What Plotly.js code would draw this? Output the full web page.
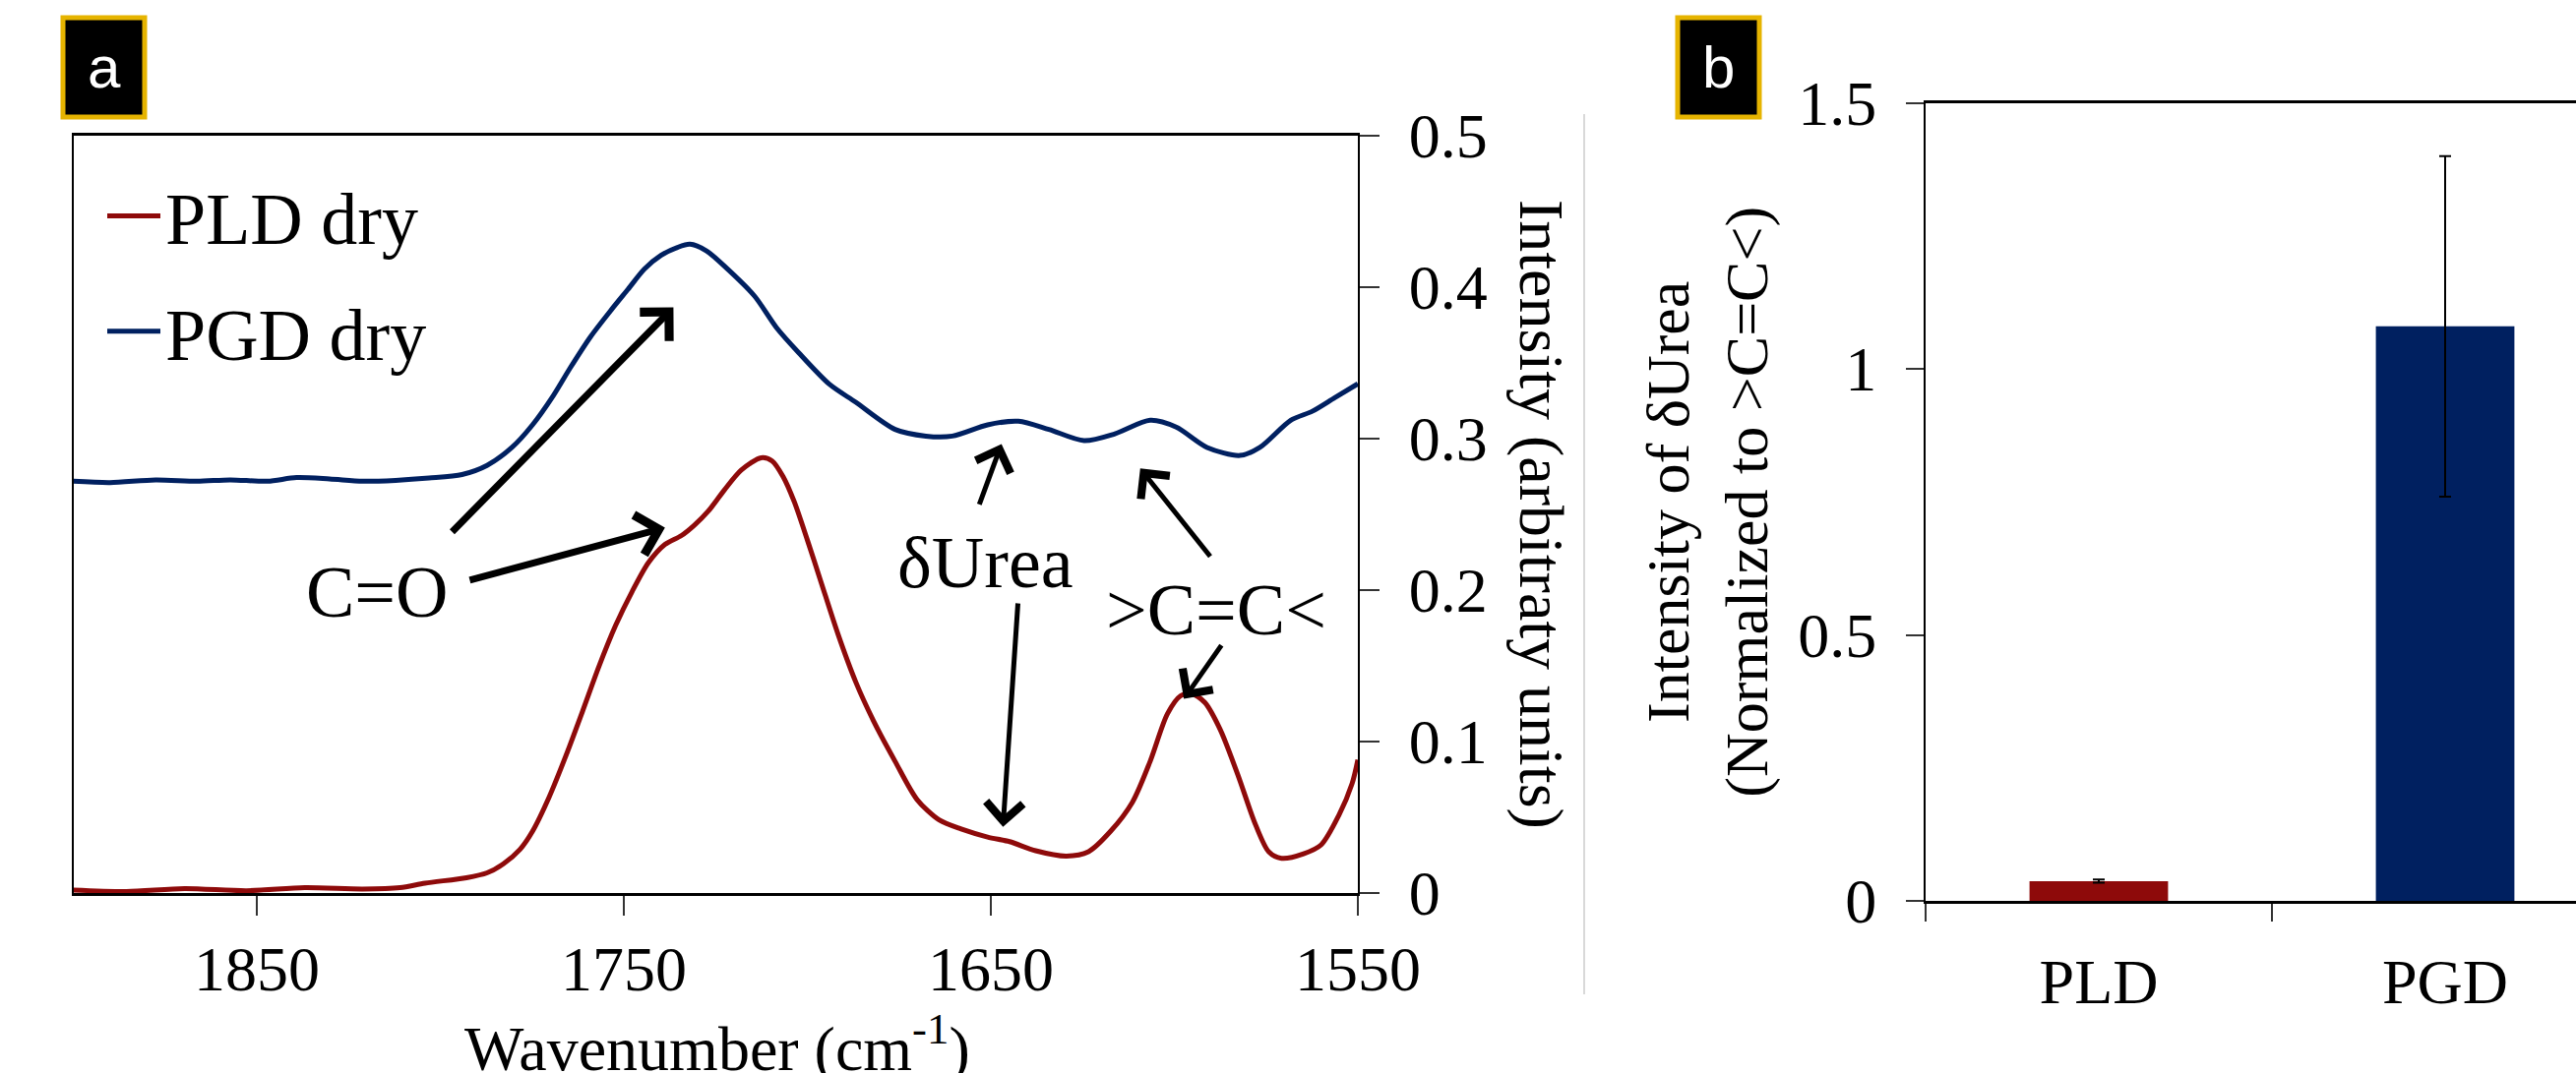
<!DOCTYPE html>
<html>
<head>
<meta charset="utf-8">
<script src="https://cdn.plot.ly/plotly-3.0.1.min.js"></script>
<style>
  html, body { margin: 0; padding: 0; background: #ffffff; overflow: hidden; }
  #chart { width: 2618px; height: 1091px; }
</style>
</head>
<body>
<div id="chart"></div>
<script>
// ---------- Data ----------
// Panel a: FTIR spectra
const wnPLD = [1900, 1885.5, 1869.7, 1852.8, 1837.0, 1821.2, 1811.0, 1804.2, 1792.9, 1787.3, 1782.8, 1778.3,
  1774.9, 1770.4, 1765.9, 1761.3, 1756.8, 1752.3, 1747.8, 1743.3, 1738.8, 1734.3, 1730.9, 1727.0, 1722.7, 1718.0,
  1712.6, 1709.6, 1706.6, 1703.6, 1700.0, 1696.4, 1691.6, 1686.8, 1682.0, 1676.1, 1670.1, 1664.1, 1658.1, 1650.9,
  1644.9, 1637.8, 1629.4, 1623.4, 1617.4, 1611.4, 1606.6, 1601.9, 1598.3, 1595.3, 1591.7, 1587.5, 1582.7, 1577.9,
  1574.3, 1570.8, 1564.8, 1560.0, 1555.2, 1551.6, 1550];
const intPLD = [0.002, 0.001, 0.003, 0.0015, 0.0035, 0.0026, 0.0035, 0.0065, 0.0101, 0.0133, 0.0193, 0.0288,
  0.0407, 0.0631, 0.0899, 0.1197, 0.1495, 0.1763, 0.1987, 0.2180, 0.2300, 0.2359, 0.2425, 0.2520, 0.2657, 0.2791,
  0.2872, 0.2851, 0.2747, 0.2583, 0.2329, 0.2061, 0.1704, 0.1391, 0.1137, 0.0869, 0.0616, 0.0482, 0.0422, 0.0369,
  0.0339, 0.0279, 0.0244, 0.0273, 0.0407, 0.0601, 0.0869, 0.1182, 0.1301, 0.1316, 0.1257, 0.1078, 0.0780, 0.0452,
  0.0273, 0.0229, 0.0259, 0.0318, 0.0512, 0.0720, 0.0880];

const wnPGD = [1900, 1890.0, 1877.6, 1866.3, 1857.3, 1847.1, 1839.2, 1830.2, 1821.2, 1812.2, 1803.1, 1794.1,
  1787.3, 1780.5, 1774.9, 1769.2, 1764.7, 1759.1, 1753.4, 1748.9, 1744.4, 1739.9, 1735.4, 1732.0, 1727.5, 1721.8,
  1714.4, 1708.4, 1702.4, 1694.0, 1686.8, 1676.1, 1667.7, 1660.5, 1650.9, 1642.5, 1634.2, 1624.6, 1616.2, 1606.6,
  1599.5, 1591.1, 1582.1, 1576.7, 1568.3, 1562.4, 1556.3, 1550];
const intPGD = [0.2717, 0.2708, 0.2726, 0.2717, 0.2726, 0.2717, 0.2741, 0.2732, 0.2717, 0.2723, 0.2738, 0.2761,
  0.2821, 0.2940, 0.3089, 0.3283, 0.3462, 0.3670, 0.3849, 0.3983, 0.4117, 0.4207, 0.4260, 0.4281, 0.4237, 0.4118,
  0.3939, 0.3730, 0.3566, 0.3357, 0.3238, 0.3059, 0.3015, 0.3015, 0.3089, 0.3113, 0.3059, 0.2985, 0.3030, 0.3119,
  0.3074, 0.2940, 0.2887, 0.2940, 0.3119, 0.3179, 0.3268, 0.3360];

const seriesNames = ['PLD dry', 'PGD dry'];
const xTicksA = [1850, 1750, 1650, 1550];

// Panel b: normalized δUrea intensity
const barCategories = ['PLD', 'PGD'];
const barValues = [0.037, 1.08];
const barErrors = [0.003, 0.32];

// Annotation labels and arrow anchor values (data units of panel a)
const peakLabels = ['C=O', 'δUrea', '>C=C<'];
const labelWn = [1817.2, 1651.5, 1588.7];
const labelInt = [0.1987, 0.218, 0.1869];
const arrowTailWn = [1797.2, 1792.4, 1653.3, 1642.6, 1589.9, 1586.9];
const arrowTailInt = [0.2374, 0.2062, 0.2554, 0.1921, 0.2211, 0.1644];
const arrowHeadWn = [1736.5, 1738.8, 1647.1, 1646.7, 1609.3, 1597.4];
const arrowHeadInt = [0.3864, 0.2410, 0.2962, 0.0437, 0.2801, 0.1281];
const arrowWidths = [7, 7, 5, 5, 5, 5];
const arrowSizes = [1.15, 1.15, 1.45, 1.45, 1.45, 1.45];

// ---------- Styling ----------
const W = 2618, H = 1091;
const px = v => v / W;
const py = v => 1 - v / H;
const SERIF = 'Liberation Serif, Times New Roman, serif';
const RED = '#8E0A0A';
const BLUE = '#002060';
const GOLD = '#E6B400';

const traces = [
  {
    type: 'scatter', mode: 'lines', x: wnPLD, y: intPLD, name: seriesNames[0],
    line: { color: RED, width: 5, shape: 'spline', smoothing: 0.8 },
    xaxis: 'x', yaxis: 'y', legendgroup: 'g1'
  },
  {
    type: 'scatter', mode: 'lines', x: wnPGD, y: intPGD, name: seriesNames[1],
    line: { color: BLUE, width: 5, shape: 'spline', smoothing: 0.8 },
    xaxis: 'x', yaxis: 'y', legendgroup: 'g2'
  },
  {
    type: 'bar', x: barCategories, y: barValues, showlegend: false,
    marker: { color: [RED, BLUE], line: { width: 0 } },
    error_y: { type: 'data', array: barErrors, visible: true, color: '#000', thickness: 2, width: 6 },
    xaxis: 'x2', yaxis: 'y2'
  }
];

const annotations = [];
for (let i = 0; i < peakLabels.length; i++) {
  annotations.push({
    xref: 'x', yref: 'y', x: labelWn[i], y: labelInt[i], text: peakLabels[i],
    showarrow: false, xanchor: 'center', yanchor: 'middle',
    font: { family: SERIF, size: 74, color: '#000' }
  });
}
for (let i = 0; i < arrowTailWn.length; i++) {
  annotations.push({
    xref: 'x', yref: 'y', axref: 'x', ayref: 'y',
    x: arrowHeadWn[i], y: arrowHeadInt[i], ax: arrowTailWn[i], ay: arrowTailInt[i],
    text: '', showarrow: true, arrowhead: 4, arrowsize: arrowSizes[i], arrowwidth: arrowWidths[i],
    arrowcolor: '#000', standoff: 0, startstandoff: 0
  });
}
// x title of panel a (its baseline sits on the bottom edge, as in the reference)
annotations.push({
  xref: 'paper', yref: 'paper', x: px(729), y: py(1104), text: 'Wavenumber (cm<sup>-1</sup>)',
  showarrow: false, xanchor: 'center', yanchor: 'bottom',
  font: { family: SERIF, size: 64, color: '#000' }
});
// Right-hand y title of panel a (reads top to bottom)
annotations.push({
  xref: 'paper', yref: 'paper', x: px(1567), y: py(523), text: 'Intensity (arbitraty units)',
  textangle: 90, showarrow: false, xanchor: 'center', yanchor: 'middle',
  font: { family: SERIF, size: 64, color: '#000' }
});
// Panel letters
annotations.push({
  xref: 'paper', yref: 'paper', x: px(105.5), y: py(68), text: 'a', showarrow: false,
  xanchor: 'center', yanchor: 'middle', font: { family: 'Liberation Sans, Arial, sans-serif', size: 60, color: '#fff' }
});
annotations.push({
  xref: 'paper', yref: 'paper', x: px(1746.5), y: py(68), text: 'b', showarrow: false,
  xanchor: 'center', yanchor: 'middle', font: { family: 'Liberation Sans, Arial, sans-serif', size: 60, color: '#fff' }
});

const shapes = [
  { type: 'rect', xref: 'paper', yref: 'paper', x0: px(64), x1: px(147), y0: py(119), y1: py(18),
    fillcolor: '#000', line: { color: GOLD, width: 5 } },
  { type: 'rect', xref: 'paper', yref: 'paper', x0: px(1705), x1: px(1788), y0: py(119), y1: py(18),
    fillcolor: '#000', line: { color: GOLD, width: 5 } },
  { type: 'line', xref: 'paper', yref: 'paper', x0: px(1610), x1: px(1610), y0: py(1011), y1: py(116),
    line: { color: '#D9D9D9', width: 2 } }
];

const tickFont = { family: SERIF, size: 64, color: '#000' };

const layout = {
  width: W, height: H,
  margin: { l: 0, r: 0, t: 0, b: 0, pad: 0 },
  paper_bgcolor: '#fff', plot_bgcolor: 'rgba(0,0,0,0)',
  showlegend: true,
  legend: {
    x: px(104), y: py(165), xanchor: 'left', yanchor: 'top', itemwidth: 54,
    bgcolor: 'rgba(0,0,0,0)', borderwidth: 0, tracegroupgap: 18,
    font: { family: SERIF, size: 74, color: '#000' }
  },
  xaxis: {
    domain: [px(74.6), px(1380)], anchor: 'y',
    range: [1900, 1550], tickmode: 'array', tickvals: xTicksA, ticktext: xTicksA.map(String),
    ticks: 'outside', ticklen: 20, tickwidth: 2, tickcolor: '#333',
    showline: true, linecolor: '#000', linewidth: 2.5, mirror: true,
    showgrid: false, zeroline: false, tickfont: tickFont, ticklabelstandoff: 0
  },
  yaxis: {
    domain: [py(908), py(137.5)], anchor: 'x', side: 'right',
    range: [0, 0.5], tickmode: 'array', tickvals: [0, 0.1, 0.2, 0.3, 0.4, 0.5],
    ticktext: ['0', '0.1', '0.2', '0.3', '0.4', '0.5'],
    ticks: 'outside', ticklen: 20, tickwidth: 2, tickcolor: '#333',
    showline: true, linecolor: '#000', linewidth: 2, mirror: true,
    showgrid: false, zeroline: false, tickfont: tickFont, ticklabelstandoff: 17
  },
  xaxis2: {
    domain: [px(1957), 1], anchor: 'y2', type: 'category',
    range: [-0.5, -0.5 + (2618 - 1957) / 352], tickson: 'boundaries',
    ticks: 'outside', ticklen: 18, tickwidth: 2, tickcolor: '#333',
    showline: true, linecolor: '#000', linewidth: 3, mirror: true,
    showgrid: false, zeroline: false, tickfont: tickFont, ticklabelstandoff: 24
  },
  yaxis2: {
    domain: [py(916), py(104.6)], anchor: 'x2',
    range: [0, 1.5], tickmode: 'array', tickvals: [0, 0.5, 1, 1.5], ticktext: ['0', '0.5', '1', '1.5'],
    ticks: 'outside', ticklen: 18, tickwidth: 2, tickcolor: '#333',
    showline: true, linecolor: '#000', linewidth: 2,
    showgrid: false, zeroline: false, tickfont: tickFont, ticklabelstandoff: 17,
    title: { text: 'Intensity of δUrea<br>(Normalized to >C=C<)', font: { family: SERIF, size: 62, color: '#000' }, standoff: 10 }
  },
  bargap: 0.6,
  annotations: annotations,
  shapes: shapes
};

Plotly.newPlot('chart', traces, layout, { staticPlot: true, displayModeBar: false });
</script>
</body>
</html>
